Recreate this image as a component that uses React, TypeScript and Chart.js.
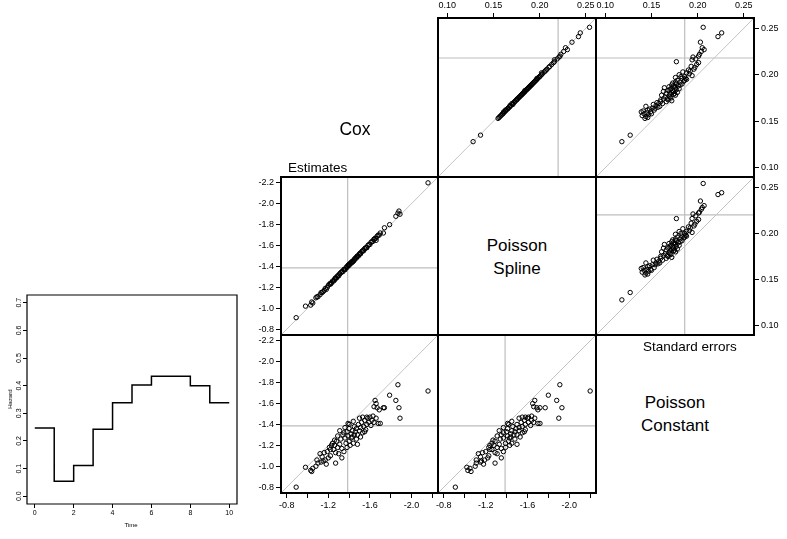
import React, { useEffect, useRef } from "react";
import { Chart, registerables } from "chart.js";
Chart.register(...registerables);

const FONT = '"Liberation Sans", Arial, Helvetica, sans-serif';

// ---------- Data: simulated estimates (log hazard) ----------
const coxEst = [
  -0.89, -2.16, -1.87, -1.79, -1.85, -1.88, -1.89, -1.65, -1.66, -1.67,
  -1.74, -1.73, -1.69, -1.64, -1.70, -0.98, -1.03, -1.04, -1.05, -1.08,
  -1.10, -1.12, -1.13, -1.15, -1.17, -1.18, -1.20, -1.22, -1.27, -1.33,
  -1.19, -1.21, -1.23, -1.24, -1.25, -1.26, -1.27, -1.28, -1.29, -1.30,
  -1.31, -1.32, -1.33, -1.34, -1.35, -1.36, -1.37, -1.38, -1.38, -1.39,
  -1.40, -1.40, -1.41, -1.42, -1.42, -1.43, -1.44, -1.45, -1.45, -1.46,
  -1.47, -1.47, -1.48, -1.49, -1.50, -1.51, -1.51, -1.52, -1.53, -1.54,
  -1.55, -1.56, -1.57, -1.58, -1.59, -1.60, -1.61, -1.62, -1.63, -1.64,
  -1.66, -1.68, -1.36, -1.39, -1.31, -1.44, -1.50, -1.14, -1.09, -1.26,
  -1.35, -1.43, -1.48, -1.53, -1.57, -1.29, -1.22, -1.16, -1.40, -1.55,
];
const splineEst = [
  -0.91, -2.20, -1.91, -1.80, -1.88, -1.93, -1.90, -1.67, -1.65, -1.69,
  -1.77, -1.72, -1.70, -1.66, -1.72, -1.02, -1.03, -1.06, -1.05, -1.10,
  -1.11, -1.13, -1.15, -1.16, -1.19, -1.18, -1.22, -1.23, -1.29, -1.35,
  -1.20, -1.23, -1.24, -1.26, -1.26, -1.28, -1.29, -1.29, -1.31, -1.31,
  -1.33, -1.34, -1.35, -1.35, -1.37, -1.37, -1.39, -1.40, -1.39, -1.41,
  -1.42, -1.41, -1.43, -1.44, -1.43, -1.45, -1.45, -1.47, -1.46, -1.48,
  -1.48, -1.49, -1.50, -1.50, -1.52, -1.53, -1.52, -1.54, -1.55, -1.55,
  -1.57, -1.58, -1.58, -1.60, -1.61, -1.61, -1.63, -1.64, -1.64, -1.66,
  -1.67, -1.70, -1.37, -1.41, -1.33, -1.45, -1.52, -1.15, -1.11, -1.27,
  -1.37, -1.44, -1.50, -1.55, -1.58, -1.31, -1.24, -1.17, -1.42, -1.57,
];
const constEst = [
  -0.80, -1.72, -1.78, -1.68, -1.63, -1.56, -1.46, -1.63, -1.60, -1.56,
  -1.56, -1.56, -1.54, -1.57, -1.41, -0.99, -0.96, -0.95, -0.98, -1.00,
  -1.03, -1.12, -1.04, -1.05, -1.06, -1.02, -1.08, -1.10, -1.03, -1.08,
  -1.14, -1.18, -1.20, -1.22, -1.16, -1.20, -1.13, -1.24, -1.18, -1.12,
  -1.21, -1.26, -1.17, -1.30, -1.14, -1.27, -1.22, -1.33, -1.18, -1.29,
  -1.24, -1.36, -1.20, -1.31, -1.27, -1.34, -1.22, -1.30, -1.38, -1.33,
  -1.26, -1.36, -1.30, -1.40, -1.34, -1.28, -1.37, -1.42, -1.32, -1.38,
  -1.44, -1.35, -1.40, -1.46, -1.42, -1.47, -1.39, -1.44, -1.48, -1.42,
  -1.46, -1.41, -1.37, -1.41, -1.34, -1.43, -1.46, -1.09, -1.06, -1.25,
  -1.32, -1.28, -1.21, -1.47, -1.47, -1.29, -1.16, -1.13, -1.40, -1.33,
];

// ---------- Data: standard errors ----------
const coxSE = [
  0.128, 0.135, 0.251, 0.241, 0.245, 0.235, 0.229, 0.227, 0.225, 0.214,
  0.219, 0.216, 0.211, 0.208, 0.213, 0.205, 0.199, 0.203, 0.202, 0.198,
  0.200, 0.196, 0.194, 0.192, 0.197, 0.190, 0.189, 0.188, 0.186, 0.187,
  0.185, 0.184, 0.183, 0.182, 0.181, 0.180, 0.179, 0.178, 0.177, 0.176,
  0.175, 0.174, 0.173, 0.172, 0.171, 0.170, 0.171, 0.169, 0.168, 0.167,
  0.166, 0.165, 0.164, 0.163, 0.162, 0.161, 0.160, 0.160, 0.159, 0.158,
  0.157, 0.156, 0.155, 0.154, 0.153, 0.158, 0.162, 0.193, 0.195, 0.201,
  0.206, 0.209, 0.217, 0.220, 0.222, 0.204, 0.191, 0.185, 0.183, 0.181,
  0.179, 0.176, 0.174, 0.189, 0.187, 0.194, 0.198, 0.190, 0.186, 0.182,
  0.178, 0.173, 0.169, 0.166, 0.164, 0.180, 0.184, 0.188, 0.192, 0.196,
];
const splineSE = [
  0.128, 0.136, 0.254, 0.242, 0.244, 0.235, 0.228, 0.230, 0.226, 0.216,
  0.221, 0.216, 0.213, 0.210, 0.215, 0.207, 0.201, 0.205, 0.202, 0.200,
  0.202, 0.197, 0.196, 0.194, 0.199, 0.192, 0.191, 0.190, 0.188, 0.189,
  0.187, 0.186, 0.184, 0.184, 0.183, 0.182, 0.181, 0.180, 0.179, 0.178,
  0.177, 0.176, 0.175, 0.174, 0.173, 0.172, 0.173, 0.170, 0.171, 0.168,
  0.168, 0.167, 0.166, 0.165, 0.163, 0.163, 0.162, 0.161, 0.161, 0.160,
  0.159, 0.158, 0.157, 0.156, 0.155, 0.160, 0.164, 0.195, 0.197, 0.203,
  0.208, 0.211, 0.219, 0.222, 0.223, 0.206, 0.193, 0.187, 0.185, 0.183,
  0.181, 0.178, 0.176, 0.191, 0.189, 0.196, 0.200, 0.192, 0.188, 0.184,
  0.180, 0.175, 0.171, 0.168, 0.166, 0.182, 0.186, 0.190, 0.194, 0.198,
];
const constSE = [
  0.118, 0.127, 0.206, 0.222, 0.226, 0.203, 0.205, 0.207, 0.204, 0.177,
  0.195, 0.194, 0.199, 0.197, 0.201, 0.190, 0.194, 0.184, 0.188, 0.186,
  0.180, 0.183, 0.178, 0.181, 0.176, 0.177, 0.172, 0.179, 0.164, 0.175,
  0.171, 0.177, 0.168, 0.174, 0.172, 0.166, 0.170, 0.176, 0.169, 0.165,
  0.171, 0.163, 0.168, 0.172, 0.160, 0.156, 0.166, 0.158, 0.152, 0.155,
  0.144, 0.157, 0.151, 0.148, 0.153, 0.141, 0.139, 0.149, 0.145, 0.142,
  0.147, 0.140, 0.144, 0.146, 0.143, 0.150, 0.146, 0.185, 0.188, 0.191,
  0.196, 0.193, 0.198, 0.201, 0.202, 0.192, 0.173, 0.180, 0.173, 0.178,
  0.174, 0.170, 0.167, 0.181, 0.169, 0.186, 0.182, 0.183, 0.176, 0.163,
  0.161, 0.160, 0.162, 0.159, 0.154, 0.175, 0.170, 0.174, 0.176, 0.187,
];

// ---------- Reference values, ranges & ticks ----------
const estTrue = -1.386;
const seRefCox = 0.218;
const seRefSpline = 0.22;
const seRefConst = 0.186;
const estRange = [-2.256, -0.744];
const seRange = [0.09, 0.261];
const estTicks = [-2.2, -2.0, -1.8, -1.6, -1.4, -1.2, -1.0, -0.8];
const estXLabelled = [-0.8, -1.2, -1.6, -2.0];
const seTicks = [0.1, 0.15, 0.2, 0.25];

// ---------- Inset hazard ----------
const hazardTime = [0, 1, 2, 3, 4, 5, 6, 7, 8, 9, 10];
const hazardValue = [0.247, 0.054, 0.111, 0.242, 0.338, 0.402, 0.434, 0.434, 0.4, 0.338, 0.338];
const hazardXTicks = [0, 2, 4, 6, 8, 10];
const hazardYTicks = [0, 0.1, 0.2, 0.3, 0.4, 0.5, 0.6, 0.7];

const colEdges = [281, 438, 596, 754];
const rowEdges = [18, 177, 335, 493];
const TICK_FS = 9;
const TICK_LEN = 5;
const TICK_GAP = 2;

type Spec = {
  row: number;
  col: number;
  kind: "est" | "se";
  x: number[];
  y: number[];
  xRef: number;
  yRef: number;
  xAxis: "top" | "bottom" | null;
  yAxis: "left" | "right" | null;
  mL: number;
};

const panels: Spec[] = [
  { row: 0, col: 1, kind: "se", x: splineSE, y: coxSE, xRef: seRefSpline, yRef: seRefCox, xAxis: "top", yAxis: null, mL: 30 },
  { row: 0, col: 2, kind: "se", x: constSE, y: coxSE, xRef: seRefConst, yRef: seRefCox, xAxis: "top", yAxis: "right", mL: 30 },
  { row: 1, col: 0, kind: "est", x: coxEst, y: splineEst, xRef: estTrue, yRef: estTrue, xAxis: null, yAxis: "left", mL: 30 },
  { row: 1, col: 2, kind: "se", x: constSE, y: splineSE, xRef: seRefConst, yRef: seRefSpline, xAxis: null, yAxis: "right", mL: 30 },
  { row: 2, col: 0, kind: "est", x: coxEst, y: constEst, xAxis: "bottom", yAxis: "left", xRef: estTrue, yRef: estTrue, mL: 40 },
  { row: 2, col: 1, kind: "est", x: splineEst, y: constEst, xAxis: "bottom", yAxis: null, xRef: estTrue, yRef: estTrue, mL: 30 },
];

const measure = (text: string, size: number) => {
  const c = document.createElement("canvas").getContext("2d") as CanvasRenderingContext2D;
  c.font = `${size}px ${FONT}`;
  return c.measureText(text).width;
};

const boxPlugin = (lw: number) => ({
  id: "box",
  afterDraw(chart: any) {
    const { ctx, chartArea: a } = chart;
    ctx.save();
    ctx.beginPath();
    ctx.strokeStyle = "#000";
    ctx.lineWidth = lw;
    ctx.rect(a.left, a.top, a.right - a.left, a.bottom - a.top);
    ctx.stroke();
    ctx.beginPath();
    ctx.restore();
  },
});

const near = (arr: number[], v: number) => arr.some((a) => Math.abs(a - v) < 1e-6);
const zeroW = (s: any) => {
  s.width = 0;
};
const zeroH = (s: any) => {
  s.height = 0;
};

function Panel({ spec }: { spec: Spec }) {
  const ref = useRef<HTMLCanvasElement>(null);
  const M = 30;
  const mL = spec.mL;
  const w = colEdges[spec.col + 1] - colEdges[spec.col];
  const h = rowEdges[spec.row + 1] - rowEdges[spec.row];
  useEffect(() => {
    const isEst = spec.kind === "est";
    const range = isEst ? estRange : seRange;
    const ticks = isEst ? estTicks : seTicks;
    const fmt = (v: number) => (isEst ? v.toFixed(1) : v.toFixed(2));
    const pts = spec.x.map((v, i) => ({ x: v, y: spec.y[i] }));
    const tickFont = { family: FONT, size: TICK_FS };
    const lw = measure(fmt(ticks[0]), TICK_FS);
    const lh = TICK_FS * 1.2;
    const xPad = -(TICK_LEN + TICK_GAP + lh);
    const yPad = spec.yAxis === "right" ? TICK_LEN + TICK_GAP + lw : -(TICK_LEN + TICK_GAP + lw);
    const chart = new Chart(ref.current as HTMLCanvasElement, {
      type: "scatter",
      data: {
        datasets: [
          {
            data: pts,
            pointRadius: 2.2,
            pointBorderWidth: 1,
            pointBorderColor: "#000",
            pointBackgroundColor: "rgba(255,255,255,0)",
            borderColor: "#000",
            backgroundColor: "rgba(255,255,255,0)",
          },
          {
            data: [{ x: range[0], y: range[0] }, { x: range[1], y: range[1] }],
            showLine: true,
            borderColor: "#c4c4c4",
            borderWidth: 1,
            pointRadius: 0,
          },
          {
            data: [{ x: spec.xRef, y: range[0] }, { x: spec.xRef, y: range[1] }],
            showLine: true,
            borderColor: "#bebebe",
            borderWidth: 1.2,
            pointRadius: 0,
          },
          {
            data: [{ x: range[0], y: spec.yRef }, { x: range[1], y: spec.yRef }],
            showLine: true,
            borderColor: "#bebebe",
            borderWidth: 1.2,
            pointRadius: 0,
          },
        ],
      },
      options: {
        animation: false,
        responsive: false,
        maintainAspectRatio: false,
        events: [],
        layout: { padding: { left: mL, right: M, top: M, bottom: M } },
        plugins: { legend: { display: false }, tooltip: { enabled: false } },
        scales: {
          x: {
            type: "linear",
            position: spec.xAxis || "bottom",
            display: !!spec.xAxis,
            min: range[0],
            max: range[1],
            reverse: isEst,
            afterBuildTicks: (s: any) => {
              s.ticks = ticks.map((v) => ({ value: v }));
            },
            afterFit: zeroH,
            ticks: {
              autoSkip: false,
              maxRotation: 0,
              minRotation: 0,
              mirror: true,
              padding: xPad,
              color: "#000",
              font: tickFont,
              callback: (v: any) => {
                const n = Number(v);
                if (isEst && !near(estXLabelled, n)) return "";
                return fmt(n);
              },
            },
            grid: { drawOnChartArea: false, drawTicks: true, tickLength: TICK_LEN, color: "#000", lineWidth: 1 },
            border: { display: false },
          },
          y: {
            type: "linear",
            position: spec.yAxis || "left",
            display: !!spec.yAxis,
            min: range[0],
            max: range[1],
            reverse: isEst,
            afterBuildTicks: (s: any) => {
              s.ticks = ticks.map((v) => ({ value: v }));
            },
            afterFit: zeroW,
            ticks: {
              autoSkip: false,
              mirror: true,
              crossAlign: "near",
              padding: yPad,
              color: "#000",
              font: tickFont,
              callback: (v: any) => fmt(Number(v)),
            },
            grid: { drawOnChartArea: false, drawTicks: true, tickLength: TICK_LEN, color: "#000", lineWidth: 1 },
            border: { display: false },
          },
        },
      },
    } as any);
    return () => chart.destroy();
  }, []);
  return (
    <>
      <canvas
        ref={ref}
        width={w + mL + M}
        height={h + 2 * M}
        style={{
          position: "absolute",
          left: colEdges[spec.col] - mL,
          top: rowEdges[spec.row] - M,
          width: w + mL + M,
          height: h + 2 * M,
        }}
      />
      <div
        style={{
          position: "absolute",
          left: colEdges[spec.col] - 1,
          top: rowEdges[spec.row] - 1,
          width: w - 2,
          height: h - 2,
          border: "2px solid #000",
          pointerEvents: "none",
        }}
      />
    </>
  );
}

function Inset() {
  const ref = useRef<HTMLCanvasElement>(null);
  useEffect(() => {
    const rotatedY = {
      id: "rotY",
      afterDraw(chart: any) {
        const s = chart.scales.y;
        const ctx = chart.ctx;
        ctx.save();
        ctx.font = `7px ${FONT}`;
        ctx.fillStyle = "#000";
        ctx.textAlign = "center";
        ctx.textBaseline = "middle";
        hazardYTicks.forEach((v) => {
          const py = s.getPixelForValue(v);
          ctx.save();
          ctx.translate(19.5, py);
          ctx.rotate(-Math.PI / 2);
          ctx.fillText(v.toFixed(1), 0, 0);
          ctx.restore();
        });
        ctx.restore();
      },
    };
    const chart = new Chart(ref.current as HTMLCanvasElement, {
      type: "scatter",
      data: {
        datasets: [
          {
            data: hazardTime.map((t, i) => ({ x: t, y: hazardValue[i] })),
            showLine: true,
            stepped: true,
            borderColor: "#000",
            borderWidth: 1.5,
            pointRadius: 0,
          },
        ],
      },
      options: {
        animation: false,
        responsive: false,
        maintainAspectRatio: false,
        events: [],
        layout: { padding: { top: 10, right: 13, left: 27, bottom: 35 } },
        plugins: { legend: { display: false }, tooltip: { enabled: false } },
        scales: {
          x: {
            type: "linear",
            min: -0.4,
            max: 10.4,
            afterBuildTicks: (s: any) => {
              s.ticks = hazardXTicks.map((v) => ({ value: v }));
            },
            afterFit: zeroH,
            ticks: {
              autoSkip: false,
              maxRotation: 0,
              minRotation: 0,
              mirror: true,
              padding: -(4 + 1 + 7 * 1.2),
              color: "#000",
              font: { family: FONT, size: 7 },
            },
            grid: { drawOnChartArea: false, drawTicks: true, tickLength: 4, color: "#000", lineWidth: 1 },
            border: { display: false },
          },
          y: {
            type: "linear",
            min: -0.028,
            max: 0.728,
            afterBuildTicks: (s: any) => {
              s.ticks = hazardYTicks.map((v) => ({ value: v }));
            },
            afterFit: zeroW,
            ticks: { autoSkip: false, color: "#000", font: { family: FONT, size: 7 }, callback: () => "" },
            grid: { drawOnChartArea: false, drawTicks: true, tickLength: 4, color: "#000", lineWidth: 1 },
            border: { display: false },
          },
        },
      },
      plugins: [boxPlugin(1.2), rotatedY],
    } as any);
    return () => chart.destroy();
  }, []);
  return (
    <canvas
      ref={ref}
      width={250}
      height={254}
      style={{ position: "absolute", left: 0, top: 285, width: 250, height: 254 }}
    />
  );
}

const labelStyle = (extra: React.CSSProperties): React.CSSProperties => ({
  position: "absolute",
  fontFamily: FONT,
  color: "#000",
  whiteSpace: "nowrap",
  ...extra,
});

export default function App() {
  return (
    <div
      style={{
        position: "fixed",
        left: 0,
        top: 0,
        width: 787,
        height: 539,
        background: "#fff",
        overflow: "hidden",
      }}
    >
      <Inset />
      {panels.map((p, i) => (
        <Panel key={i} spec={p} />
      ))}
      <div style={labelStyle({ left: 355, top: 129, fontSize: 17.5, lineHeight: "23px", transform: "translate(-50%, -50%)", textAlign: "center" })}>
        Cox
      </div>
      <div style={labelStyle({ left: 517, top: 256.5, fontSize: 17, lineHeight: "23px", transform: "translate(-50%, -50%)", textAlign: "center" })}>
        Poisson
        <br />
        Spline
      </div>
      <div style={labelStyle({ left: 675, top: 413.5, fontSize: 17, lineHeight: "23px", transform: "translate(-50%, -50%)", textAlign: "center" })}>
        Poisson
        <br />
        Constant
      </div>
      <div style={labelStyle({ left: 288, top: 161, fontSize: 13.5, lineHeight: 1 })}>Estimates</div>
      <div style={labelStyle({ left: 643, top: 340, fontSize: 13.5, lineHeight: 1 })}>Standard errors</div>
      <div style={labelStyle({ left: 131, top: 525, fontSize: 6, lineHeight: 1, transform: "translate(-50%, -50%)" })}>Time</div>
      <div
        style={labelStyle({
          left: 9.5,
          top: 399,
          fontSize: 6,
          lineHeight: 1,
          transform: "translate(-50%, -50%) rotate(-90deg)",
        })}
      >
        Hazard
      </div>
    </div>
  );
}
